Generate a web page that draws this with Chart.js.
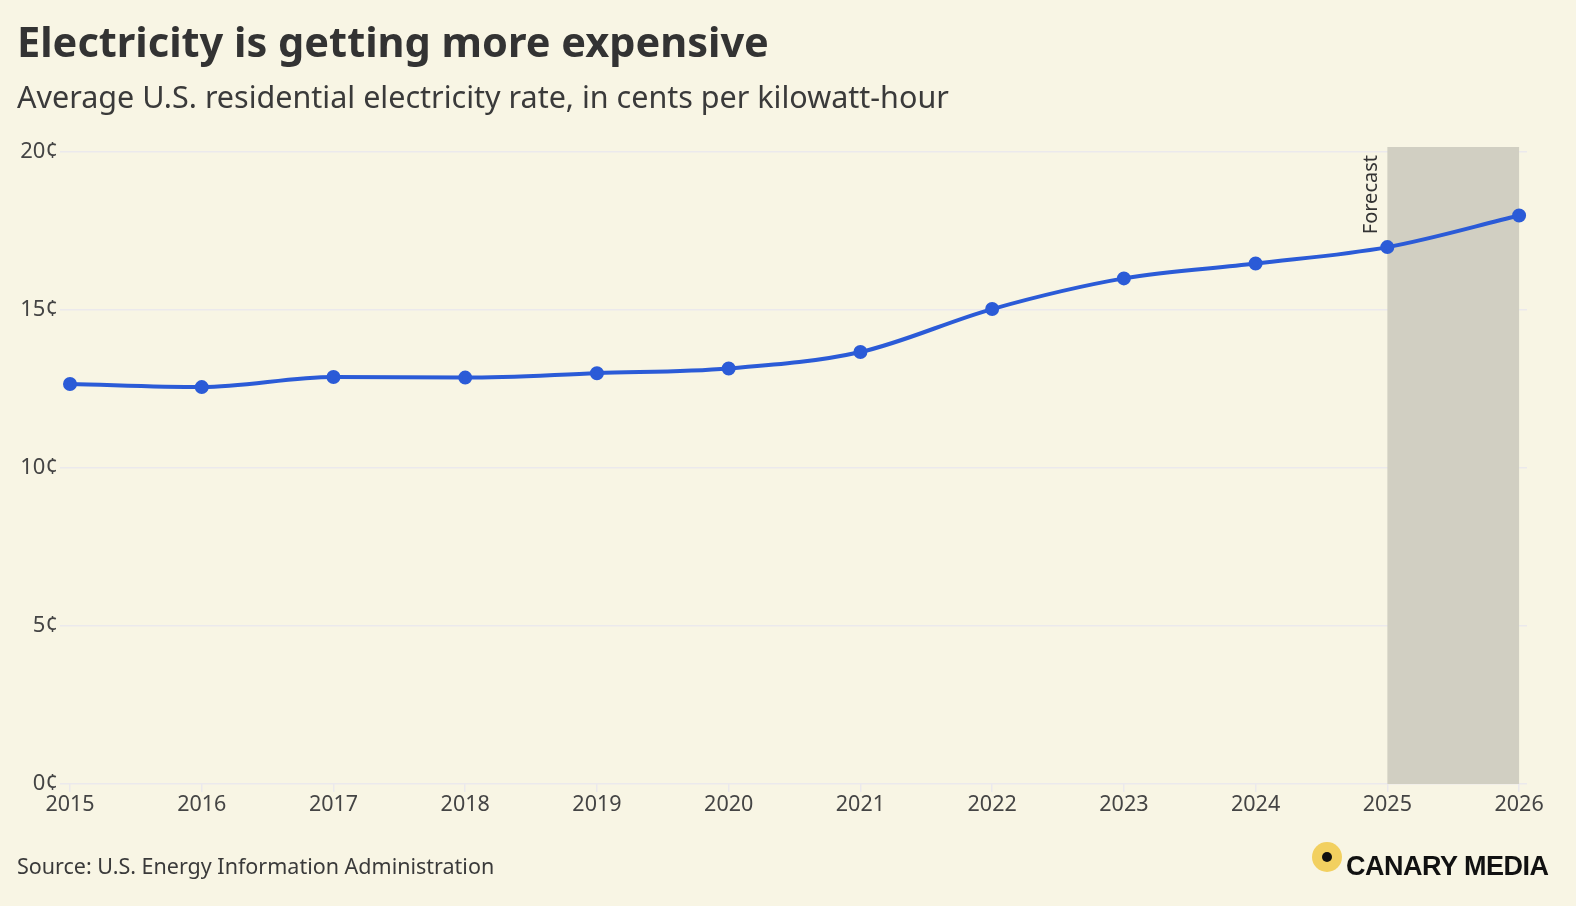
<!DOCTYPE html>
<html>
<head>
<meta charset="utf-8">
<script src="https://cdn.jsdelivr.net/npm/chart.js@4/dist/chart.umd.min.js"></script>
<style>
  html, body { margin: 0; padding: 0; background: #f8f5e4; }
  body { width: 1576px; height: 906px; position: relative; overflow: hidden; font-family: "Noto Sans", sans-serif; color: #333; }
  #title { position: absolute; left: 17px; top: 13px; font-size: 41.5px; font-weight: 700; color: #333; white-space: nowrap; }
  #subtitle { position: absolute; left: 17px; top: 75px; font-size: 30.5px; color: #3a3a3a; white-space: nowrap; }
  #source { position: absolute; left: 17px; top: 851px; font-size: 21.5px; color: #3a3a3a; white-space: nowrap; }
  #logo { position: absolute; left: 1312px; top: 842px; height: 40px; }
  #logo .dot { position: absolute; left: 0; top: 0; width: 30px; height: 30px; border-radius: 50%; background: #f2d060; }
  #logo .dot::after { content: ''; position: absolute; left: 10px; top: 10px; width: 10px; height: 10px; border-radius: 50%; background: #111; }
  #logo .name { position: absolute; left: 34px; top: 9px; font-family: "Liberation Sans", Arial, sans-serif; font-weight: 700; font-size: 27px; color: #111; white-space: nowrap; letter-spacing: -0.5px; }
  #wrap { position: absolute; left: 0; top: 0; width: 1576px; height: 906px; }
</style>
</head>
<body>
<div id="wrap"><canvas id="chart"></canvas></div>
<div id="title">Electricity is getting more expensive</div>
<div id="subtitle">Average U.S. residential electricity rate, in cents per kilowatt-hour</div>
<div id="source">Source: U.S. Energy Information Administration</div>
<div id="logo"><div class="dot"></div><div class="name">CANARY MEDIA</div></div>
<script>
// data
const years = [2015, 2016, 2017, 2018, 2019, 2020, 2021, 2022, 2023, 2024, 2025, 2026];
const rates = [12.66, 12.56, 12.88, 12.86, 13.00, 13.15, 13.67, 15.03, 16.00, 16.47, 16.99, 17.99];
const yTicks = [0, 5, 10, 15, 20];
const forecastStart = 2025;
const forecastEnd = 2026;

document.addEventListener('DOMContentLoaded', function() {
    const ctx = document.getElementById('chart').getContext('2d');

    const forecastPlugin = { // shaded forecast band + label
        id: 'forecast',
        beforeDatasetsDraw(chart) {
            const c = chart.ctx;
            const x = chart.scales.x;
            const area = chart.chartArea;
            const x0 = x.getPixelForValue(forecastStart);
            const x1 = x.getPixelForValue(forecastEnd);
            c.save();
            c.fillStyle = '#d1cfc2';
            c.fillRect(x0, area.top - 5, x1 - x0, area.bottom - area.top + 5);
            c.translate(x0 - 16, area.top + 3);
            c.rotate(-Math.PI / 2);
            c.fillStyle = '#333';
            c.font = '20px "Noto Sans"';
            c.textAlign = 'right';
            c.textBaseline = 'middle';
            c.fillText('Forecast', 0, 0);
            c.restore();
        }
    };

    new Chart(ctx, {
        type: 'line',
        data: {
            datasets: [{
                data: years.map((y, i) => ({ x: y, y: rates[i] })),
                borderColor: '#2b5bd7',
                backgroundColor: '#2b5bd7',
                borderWidth: 4,
                pointRadius: 5,
                pointHoverRadius: 5,
                tension: 0.4,
                cubicInterpolationMode: 'monotone',
                clip: false
            }]
        },
        options: {
            responsive: true,
            maintainAspectRatio: false,
            animation: false,
            layout: { padding: { left: 0, right: 49, top: 152, bottom: 82 } },
            plugins: { legend: { display: false }, tooltip: { enabled: false } },
            scales: {
                x: {
                    type: 'linear',
                    min: 2015,
                    max: 2026.06,
                    afterFit(scale) { scale.height = 40; },
                    afterBuildTicks(scale) { scale.ticks = years.map(v => ({ value: v })); },
                    ticks: {
                        callback: v => String(v),
                        color: '#444',
                        font: { family: 'Noto Sans', size: 21.5 },
                        padding: 0,
                        maxRotation: 0,
                        autoSkip: false
                    },
                    grid: { color: '#ebe9ec', lineWidth: 1.5, tickLength: 8, drawOnChartArea: false },
                    border: { display: false }
                },
                y: {
                    min: 0,
                    max: 20,
                    afterFit(scale) { scale.width = 70; },
                    afterBuildTicks(scale) { scale.ticks = yTicks.map(v => ({ value: v })); },
                    ticks: {
                        callback: v => v + '¢',
                        color: '#444',
                        font: { family: 'Noto Sans', size: 22 },
                        padding: 2
                    },
                    grid: { color: '#ebe9ec', lineWidth: 1.5, tickLength: 10 },
                    border: { display: false }
                }
            }
        },
        plugins: [forecastPlugin]
    });
});
</script>
</body>
</html>
